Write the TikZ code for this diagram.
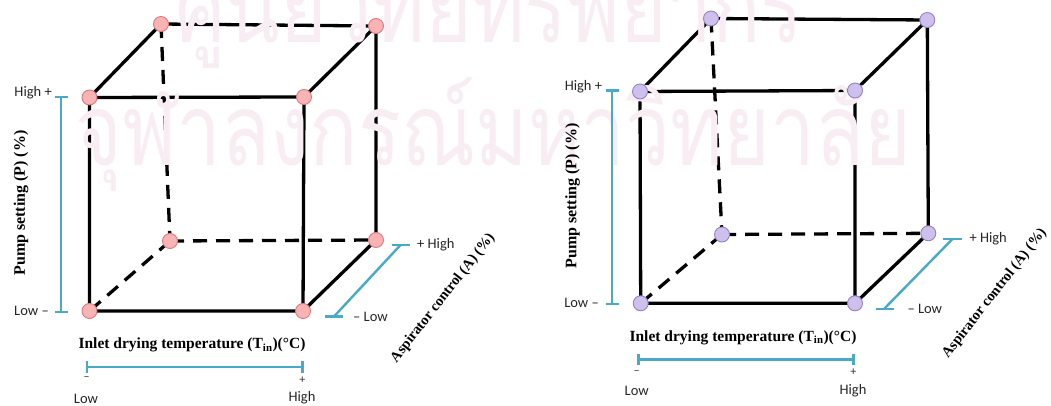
\documentclass[tikz,border=0pt]{standalone}
\usepackage{fontspec}
\setmainfont{Liberation Serif}
\newfontfamily\calfont{Carlito}
\newfontfamily\thaifont[Script=Thai]{Loma}
\usetikzlibrary{backgrounds}
\definecolor{wmark}{RGB}{249,237,244}
\definecolor{barblue}{RGB}{72,170,200}
\definecolor{pinkfill}{RGB}{248,180,180}
\definecolor{pinkdraw}{RGB}{222,120,120}
\definecolor{purfill}{RGB}{206,192,236}
\definecolor{purdraw}{RGB}{150,128,196}
\tikzset{
  edge/.style={line width=3.3pt, black},
  hid/.style={edge, dash pattern=on 14pt off 9pt},
  vred/.style={circle, minimum size=15pt, inner sep=0pt, fill=pinkfill, draw=pinkdraw, line width=0.9pt},
  vpur/.style={circle, minimum size=15pt, inner sep=0pt, fill=purfill, draw=purdraw, line width=0.9pt},
  bar/.style={line width=2.4pt, barblue},
  lvl/.style={font=\calfont\fontsize{14.5}{15}\selectfont, inner sep=0pt, text=black!85},
  sgn/.style={font=\calfont\fontsize{12}{12}\selectfont, inner sep=0pt, text=black!80},
  axp/.style={font=\bfseries\fontsize{16}{16}\selectfont, inner sep=0pt},
  axi/.style={font=\bfseries\fontsize{15.5}{16}\selectfont, inner sep=0pt},
  axa/.style={font=\bfseries\fontsize{14.5}{15}\selectfont, inner sep=0pt},
  wm/.style={font=\thaifont\fontsize{100}{100}\selectfont, text=wmark, inner sep=0pt, xscale=0.8}
}
\begin{document}
\begin{tikzpicture}[x=1pt,y=-1pt]
\useasboundingbox (0,0) rectangle (1051,406);
% watermark
\node[wm, anchor=base west] (wm1) at (175,43) {ศูนย์วิทยทรัพยากร};
\node[wm, anchor=base west] (wm2) at (75,166) {จุฬาลงกรณ์มหาวิทยาลัย};

% ---------------- left cube ----------------
\node[vred] (ltbl) at (161,24) {};
\node[vred] (ltbr) at (376,26) {};
\node[vred] (lftl) at (89.5,97.5) {};
\node[vred] (lftr) at (304,97) {};
\node[vred] (lbbl) at (170,241) {};
\node[vred] (lbbr) at (376,240) {};
\node[vred] (lfbl) at (89.5,311) {};
\node[vred] (lfbr) at (303,311) {};
\begin{scope}[on background layer]
\draw[edge] (lftl.center) -- (lftr.center) -- (lfbr.center) -- (lfbl.center) -- cycle;
\draw[edge] (lftl.center) -- (ltbl.center) -- (ltbr.center) -- (lftr.center);
\draw[edge] (ltbr.center) -- (lbbr.center) -- (lfbr.center);
\draw[hid] (ltbl.center) -- (lbbl.center);
\draw[hid] (lbbl.center) -- (lbbr.center);
\draw[hid] (lbbl.center) -- (lfbl.center);
\end{scope}
% pump bar
\draw[bar] (61,97) -- (61,312);
\draw[bar] (55,97) -- (67.5,97);
\draw[bar] (55,312) -- (67.5,312);
\node[lvl, anchor=east] (lhp) at (52,93) {High +};
\node[lvl, anchor=east] (llp) at (49,311) {Low –};
\node[axp, rotate=90] (lpump) at (21,203) {Pump setting (P) (\%)};
% aspirator bar
\draw[bar] (334,316.5) -- (400.5,245);
\draw[bar] (325,316.5) -- (343,316.5);
\draw[bar] (392,245) -- (410,245);
\node[lvl, anchor=west] (lha) at (417,245) {+ High};
\node[lvl, anchor=west] (lla) at (353,317) {– Low};
\node[axa, rotate=52] (lasp) at (443,298) {Aspirator control (A) (\%)};
% inlet bar
\node[axi] (linl) at (192,345) {Inlet drying temperature (T\textsubscript{in})(°C)};
\draw[bar] (86.7,366.7) -- (302.3,366.7);
\draw[bar] (86.7,361) -- (86.7,373);
\draw[bar] (302.3,361) -- (302.3,373);
\node[sgn] (lmi) at (86.7,379) {–};
\node[sgn] (lpl) at (302.3,380) {+};
\node[lvl] (llo) at (86,399) {Low};
\node[lvl] (lhi) at (302,398) {High};

% ---------------- right cube ----------------
\node[vpur] (rtbl) at (711,18.5) {};
\node[vpur] (rtbr) at (927.3,20) {};
\node[vpur] (rftl) at (640,91.5) {};
\node[vpur] (rftr) at (855,90.5) {};
\node[vpur] (rbbl) at (722,234.5) {};
\node[vpur] (rbbr) at (928.3,233.3) {};
\node[vpur] (rfbl) at (640.7,303.3) {};
\node[vpur] (rfbr) at (855,303.3) {};
\begin{scope}[on background layer]
\draw[edge] (rftl.center) -- (rftr.center) -- (rfbr.center) -- (rfbl.center) -- cycle;
\draw[edge] (rftl.center) -- (rtbl.center) -- (rtbr.center) -- (rftr.center);
\draw[edge] (rtbr.center) -- (rbbr.center) -- (rfbr.center);
\draw[hid] (rtbl.center) -- (rbbl.center);
\draw[hid] (rbbl.center) -- (rbbr.center);
\draw[hid] (rbbl.center) -- (rfbl.center);
\end{scope}
% pump bar
\draw[bar] (612,90.7) -- (612,303.7);
\draw[bar] (605.5,90.7) -- (618.5,90.7);
\draw[bar] (605.5,303.7) -- (618.5,303.7);
\node[lvl, anchor=east] (rhp) at (602.3,86.7) {High +};
\node[lvl, anchor=east] (rlp) at (599,303.3) {Low –};
\node[axp, rotate=90] (rpump) at (572.5,196) {Pump setting (P) (\%)};
% aspirator bar
\draw[bar] (884,309) -- (952.5,239);
\draw[bar] (876,309) -- (894,309);
\draw[bar] (943.3,239) -- (961.7,239);
\node[lvl, anchor=west] (rha) at (969.3,239) {+ High};
\node[lvl, anchor=west] (rla) at (907.3,309) {– Low};
\node[axa, rotate=52] (rasp) at (994.6,293.3) {Aspirator control (A) (\%)};
% inlet bar
\node[axi] (rinl) at (743,337.5) {Inlet drying temperature (T\textsubscript{in})(°C)};
\draw[bar] (638.3,359.5) -- (853.3,359.5);
\draw[bar] (638.3,354) -- (638.3,365);
\draw[bar] (853.3,354) -- (853.3,365);
\node[sgn] (rmi) at (636.7,372.7) {–};
\node[sgn] (rpl) at (853.3,372.5) {+};
\node[lvl] (rlo) at (636.7,390.7) {Low};
\node[lvl] (rhi) at (853,391) {High};
\end{tikzpicture}
\end{document}
